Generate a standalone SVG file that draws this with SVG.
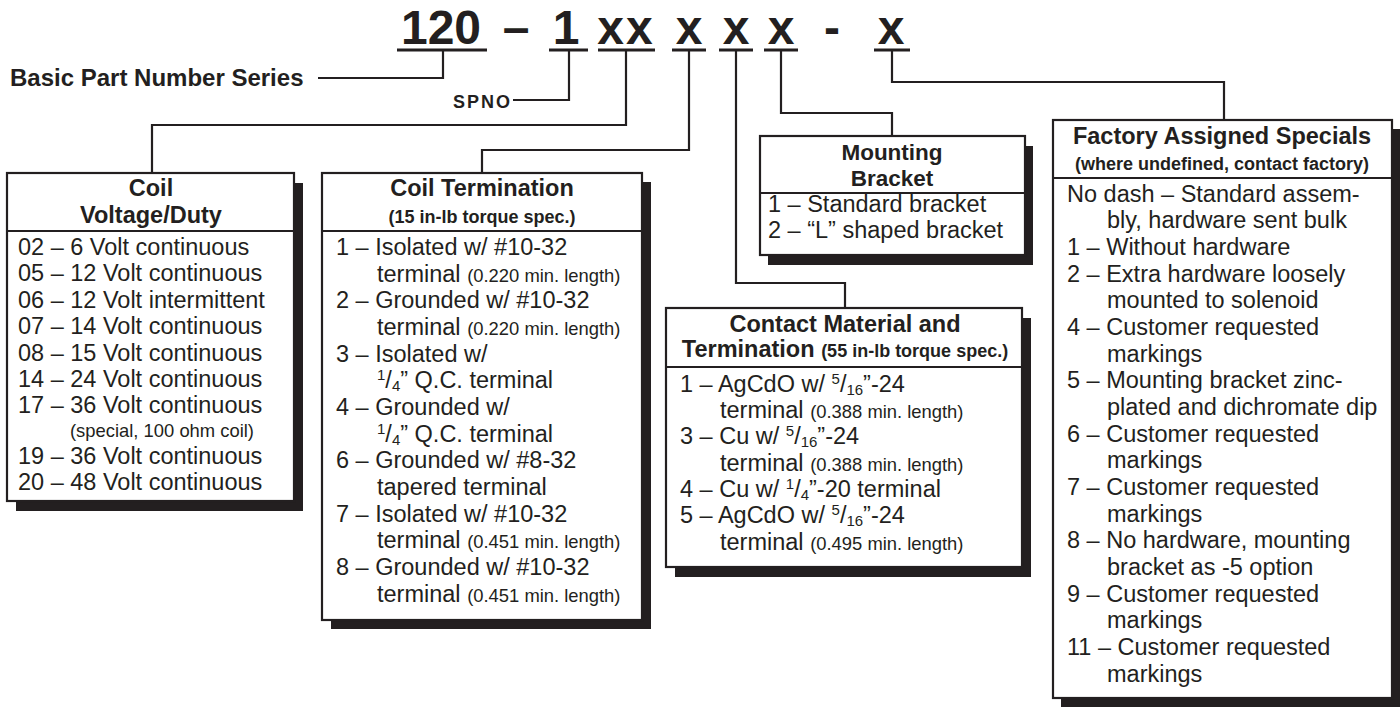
<svg xmlns="http://www.w3.org/2000/svg" width="1400" height="708" viewBox="0 0 1400 708">
<style>
text{font-family:"Liberation Sans",Arial,Helvetica,sans-serif;fill:#231f20}
.it{font-size:23.5px}
.hd{font-size:23.5px;font-weight:bold;text-anchor:middle}
.sm{font-size:18.4px}
.sb{font-size:18px;font-weight:bold}
.fr{font-size:15px}
.ttl{font-size:48px;font-weight:bold;text-anchor:middle}
.lbl{font-size:24px;font-weight:bold}
.box{fill:#fff;stroke:#231f20;stroke-width:2.2}
.sh{fill:#231f20}
.cn{fill:none;stroke:#231f20;stroke-width:2.2}
.ul{fill:none;stroke:#231f20;stroke-width:2.8}
</style>
<rect width="1400" height="708" fill="#fff"/>

<g id="title">
<text class="ttl" x="441" y="44">120</text>
<text class="ttl" x="516" y="44">–</text>
<text class="ttl" x="566" y="44">1</text>
<text class="ttl" x="626" y="44" style="letter-spacing:2px">xx</text>
<text class="ttl" x="689" y="44">x</text>
<text class="ttl" x="736" y="44">x</text>
<text class="ttl" x="781" y="44">x</text>
<text class="ttl" x="832" y="44">-</text>
<text class="ttl" x="891" y="44">x</text>
<path class="ul" d="M397 50H487M549 50H588M598 50H655M672 50H706M719 50H753M764 50H798M874 50H910"/>
</g>

<g id="connectors">
<path class="cn" d="M318 78H443V50"/>
<path class="cn" d="M513 100H569V50"/>
<path class="cn" d="M152 173V125H626V50"/>
<path class="cn" d="M482 173V150H689V50"/>
<path class="cn" d="M845 308V283H736V50"/>
<path class="cn" d="M892 136V113H781V50"/>
<path class="cn" d="M1224 120V82H892V50"/>
</g>

<g id="basic-label">
<text class="lbl" x="10" y="86">Basic Part Number Series</text>
</g>
<g id="spno-label">
<text class="lbl" x="453" y="108" style="font-size:18px;letter-spacing:2px">SPNO</text>
</g>

<g id="coil-voltage">
<rect class="sh" x="16" y="183" width="287" height="328"/>
<rect class="box" x="7" y="173" width="287" height="328"/>
<line class="cn" x1="7" y1="231" x2="294" y2="231"/>
<text class="hd" x="151" y="196">Coil</text>
<text class="hd" x="151" y="223">Voltage/Duty</text>
<text class="it" x="18" y="255">02 – 6 Volt continuous</text>
<text class="it" x="18" y="281.4">05 – 12 Volt continuous</text>
<text class="it" x="18" y="307.8">06 – 12 Volt intermittent</text>
<text class="it" x="18" y="334.2">07 – 14 Volt continuous</text>
<text class="it" x="18" y="360.6">08 – 15 Volt continuous</text>
<text class="it" x="18" y="387">14 – 24 Volt continuous</text>
<text class="it" x="18" y="413.4">17 – 36 Volt continuous</text>
<text class="sm" x="70" y="437">(special, 100 ohm coil)</text>
<text class="it" x="18" y="464">19 – 36 Volt continuous</text>
<text class="it" x="18" y="490.4">20 – 48 Volt continuous</text>
</g>

<g id="coil-termination">
<rect class="sh" x="331" y="182" width="320" height="447"/>
<rect class="box" x="322" y="173" width="320" height="447"/>
<line class="cn" x1="322" y1="231" x2="642" y2="231"/>
<text class="hd" x="482" y="196">Coil Termination</text>
<text class="sb" x="482" y="223" text-anchor="middle">(15 in-lb torque spec.)</text>
<text class="it" x="336" y="255">1 – Isolated w/ #10-32</text>
<text class="it" x="377" y="281.7">terminal <tspan class="sm">(0.220 min. length)</tspan></text>
<text class="it" x="336" y="308.3">2 – Grounded w/ #10-32</text>
<text class="it" x="377" y="335">terminal <tspan class="sm">(0.220 min. length)</tspan></text>
<text class="it" x="336" y="361.7">3 – Isolated w/</text>
<text class="it" x="377" y="388.3"><tspan class="fr" dy="-8">1</tspan><tspan dy="8">/</tspan><tspan class="fr" dy="3">4</tspan><tspan dy="-3">” Q.C. terminal</tspan></text>
<text class="it" x="336" y="415">4 – Grounded w/</text>
<text class="it" x="377" y="441.7"><tspan class="fr" dy="-8">1</tspan><tspan dy="8">/</tspan><tspan class="fr" dy="3">4</tspan><tspan dy="-3">” Q.C. terminal</tspan></text>
<text class="it" x="336" y="468.3">6 – Grounded w/ #8-32</text>
<text class="it" x="377" y="495">tapered terminal</text>
<text class="it" x="336" y="521.7">7 – Isolated w/ #10-32</text>
<text class="it" x="377" y="548.3">terminal <tspan class="sm">(0.451 min. length)</tspan></text>
<text class="it" x="336" y="575">8 – Grounded w/ #10-32</text>
<text class="it" x="377" y="601.7">terminal <tspan class="sm">(0.451 min. length)</tspan></text>
</g>

<g id="mounting-bracket">
<rect class="sh" x="768" y="146" width="265" height="119"/>
<rect class="box" x="760" y="136" width="265" height="119"/>
<line class="cn" x1="760" y1="193" x2="1025" y2="193"/>
<text class="hd" x="892" y="160" style="font-size:22.5px">Mounting</text>
<text class="hd" x="892" y="185.5" style="font-size:22.5px">Bracket</text>
<text class="it" x="768" y="211.7">1 – Standard bracket</text>
<text class="it" x="768" y="238.3">2 – “L” shaped bracket</text>
</g>

<g id="contact-material">
<rect class="sh" x="675" y="318" width="356" height="259"/>
<rect class="box" x="666" y="308" width="356" height="259"/>
<line class="cn" x1="666" y1="367" x2="1022" y2="367"/>
<text class="hd" x="845" y="332">Contact Material and</text>
<text class="hd" x="845" y="357">Termination <tspan class="sb">(55 in-lb torque spec.)</tspan></text>
<text class="it" x="680" y="391.7">1 – AgCdO w/ <tspan class="fr" dy="-8">5</tspan><tspan dy="8">/</tspan><tspan class="fr" dy="3">16</tspan><tspan dy="-3">”-24</tspan></text>
<text class="it" x="720" y="418">terminal <tspan class="sm">(0.388 min. length)</tspan></text>
<text class="it" x="680" y="444.3">3 – Cu w/ <tspan class="fr" dy="-8">5</tspan><tspan dy="8">/</tspan><tspan class="fr" dy="3">16</tspan><tspan dy="-3">”-24</tspan></text>
<text class="it" x="720" y="470.6">terminal <tspan class="sm">(0.388 min. length)</tspan></text>
<text class="it" x="680" y="497">4 – Cu w/ <tspan class="fr" dy="-8">1</tspan><tspan dy="8">/</tspan><tspan class="fr" dy="3">4</tspan><tspan dy="-3">”-20 terminal</tspan></text>
<text class="it" x="680" y="523.3">5 – AgCdO w/ <tspan class="fr" dy="-8">5</tspan><tspan dy="8">/</tspan><tspan class="fr" dy="3">16</tspan><tspan dy="-3">”-24</tspan></text>
<text class="it" x="720" y="549.6">terminal <tspan class="sm">(0.495 min. length)</tspan></text>
</g>

<g id="factory-specials">
<rect class="sh" x="1061" y="129" width="339" height="578"/>
<rect class="box" x="1053" y="120" width="339" height="578"/>
<line class="cn" x1="1053" y1="178" x2="1392" y2="178"/>
<text class="hd" x="1222" y="144">Factory Assigned Specials</text>
<text class="sb" x="1222" y="170" text-anchor="middle">(where undefined, contact factory)</text>
<text class="it" x="1067" y="201.7">No dash – Standard assem-</text>
<text class="it" x="1107" y="228.3">bly, hardware sent bulk</text>
<text class="it" x="1067" y="255">1 – Without hardware</text>
<text class="it" x="1067" y="281.7">2 – Extra hardware loosely</text>
<text class="it" x="1107" y="308.3">mounted to solenoid</text>
<text class="it" x="1067" y="335">4 – Customer requested</text>
<text class="it" x="1107" y="361.7">markings</text>
<text class="it" x="1067" y="388.3">5 – Mounting bracket zinc-</text>
<text class="it" x="1107" y="415">plated and dichromate dip</text>
<text class="it" x="1067" y="441.7">6 – Customer requested</text>
<text class="it" x="1107" y="468.3">markings</text>
<text class="it" x="1067" y="495">7 – Customer requested</text>
<text class="it" x="1107" y="521.7">markings</text>
<text class="it" x="1067" y="548.3">8 – No hardware, mounting</text>
<text class="it" x="1107" y="575">bracket as -5 option</text>
<text class="it" x="1067" y="601.7">9 – Customer requested</text>
<text class="it" x="1107" y="628.3">markings</text>
<text class="it" x="1067" y="655">11 – Customer requested</text>
<text class="it" x="1107" y="681.7">markings</text>
</g>
</svg>
